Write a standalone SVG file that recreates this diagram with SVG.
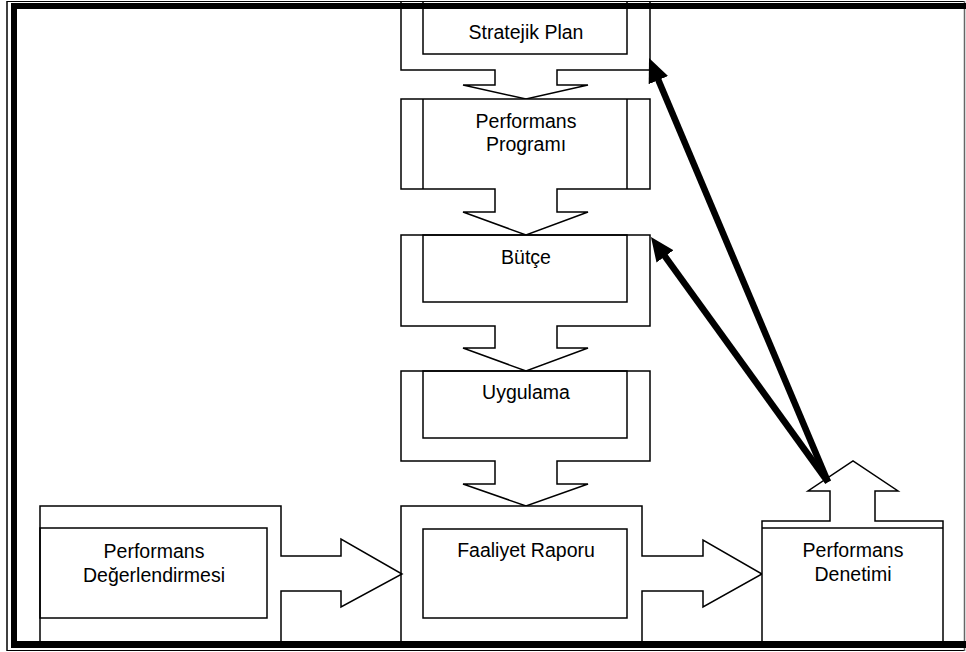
<svg xmlns="http://www.w3.org/2000/svg" width="966" height="652" viewBox="0 0 966 652">
  <style>
    .shape { fill: #fff; stroke: #000; stroke-width: 1.5; stroke-linejoin: miter; }
    .inner { fill: none; stroke: #000; stroke-width: 1.5; }
    .label { font-family: "Liberation Sans", Arial, sans-serif; font-size: 19.5px; fill: #000; text-anchor: middle; }
    .feedback { fill: none; stroke: #000; stroke-width: 6.5; stroke-linecap: butt; }
  </style>
  <defs>
    <marker id="head" markerUnits="userSpaceOnUse" markerWidth="26" markerHeight="24" viewBox="0 -12 26 24" refX="12" refY="0" orient="auto">
      <path d="M0,-10.5 L24,0 L0,10.5 Z" fill="#000"/>
    </marker>
  </defs>

  <rect x="0" y="0" width="966" height="652" fill="#fff"/>

  <!-- Stratejik Plan -->
  <g id="stratejik-plan">
    <path class="shape" d="M401,0 V70 H495 V85 H463 L526,99 L588,85 H557 V70 H650 V0"/>
    <rect class="inner" x="423" y="0" width="204" height="54"/>
    <text class="label" x="526" y="39">Stratejik Plan</text>
  </g>

  <!-- Performans Programı -->
  <g id="performans-programi">
    <path class="shape" d="M401,99 H650 V189 H557 V212 H588 L526,235 L463,212 H495 V189 H401 Z"/>
    <line class="inner" x1="423" y1="99" x2="423" y2="189"/>
    <line class="inner" x1="627" y1="99" x2="627" y2="189"/>
    <text class="label" x="526" y="128">Performans</text>
    <text class="label" x="526" y="151">Programı</text>
  </g>

  <!-- Bütçe -->
  <g id="butce">
    <path class="shape" d="M401,235 H650 V326 H557 V348 H588 L526,371 L463,348 H495 V326 H401 Z"/>
    <rect class="inner" x="423" y="235" width="204" height="67"/>
    <text class="label" x="526" y="264">Bütçe</text>
  </g>

  <!-- Uygulama -->
  <g id="uygulama">
    <path class="shape" d="M401,371 H650 V461 H557 V484 H588 L526,506 L463,484 H495 V461 H401 Z"/>
    <rect class="inner" x="423" y="371" width="204" height="67"/>
    <text class="label" x="526" y="399">Uygulama</text>
  </g>

  <!-- Faaliyet Raporu -->
  <g id="faaliyet-raporu">
    <path class="shape" d="M401,648 V506 H642 V556 H703 V540 L762,574 L703,607 V591 H642 V648"/>
    <rect class="inner" x="423" y="529" width="204" height="89"/>
    <text class="label" x="526" y="557">Faaliyet Raporu</text>
  </g>

  <!-- Performans Değerlendirmesi -->
  <g id="performans-degerlendirmesi">
    <path class="shape" d="M40,648 V506 H281 V556 H341 V539 L402,574 L341,607 V591 H281 V648"/>
    <rect class="inner" x="40" y="528" width="227" height="90"/>
    <text class="label" x="154" y="558">Performans</text>
    <text class="label" x="154" y="582">Değerlendirmesi</text>
  </g>

  <!-- Performans Denetimi -->
  <g id="performans-denetimi">
    <path class="shape" d="M762,648 V521 H830 V491 H808 L853,461 L898,491 H875 V521 H943 V648"/>
    <line class="inner" x1="762" y1="528" x2="943" y2="528"/>
    <text class="label" x="853" y="557">Performans</text>
    <text class="label" x="853" y="581">Denetimi</text>
  </g>

  <!-- Feedback connectors from the audit back to plan and budget -->
  <g id="connectors">
    <line class="feedback" x1="828" y1="482" x2="653.7" y2="69.1" marker-end="url(#head)"/>
    <line class="feedback" x1="828" y1="482" x2="658" y2="246.7" marker-end="url(#head)"/>
  </g>

  <!-- Page frame: thin outer line with a heavy inner rule -->
  <g id="frame">
    <rect x="0" y="0" width="966" height="1" fill="#fff"/>
    <line x1="7" y1="1.5" x2="964" y2="1.5" stroke="#000" stroke-width="1"/>
    <line x1="7" y1="1" x2="7" y2="651" stroke="#000" stroke-width="1.5"/>
    <line x1="7" y1="650.5" x2="964" y2="650.5" stroke="#000" stroke-width="1"/>
    <line x1="964.5" y1="1" x2="964.5" y2="651" stroke="#666" stroke-width="1.5"/>
    <rect x="11" y="3" width="955" height="6" fill="#000"/>
    <rect x="11" y="3" width="6" height="645" fill="#000"/>
    <rect x="11" y="641" width="955" height="7" fill="#000"/>
  </g>
</svg>
